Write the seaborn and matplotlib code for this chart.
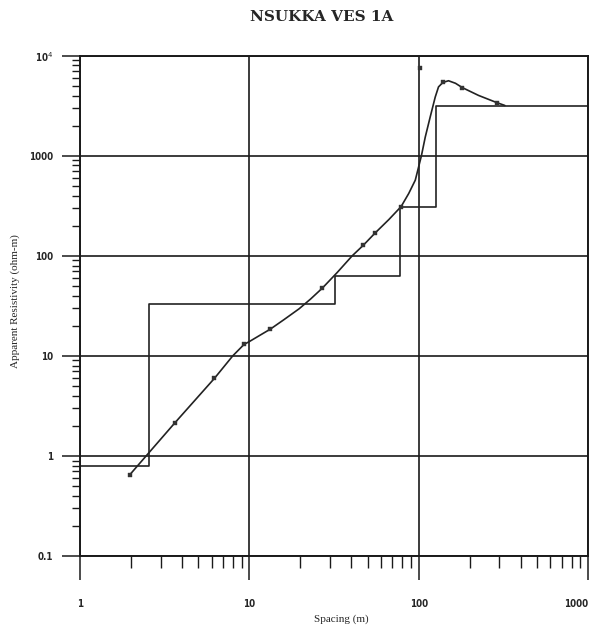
import matplotlib
matplotlib.use('Agg')
import matplotlib.pyplot as plt
import matplotlib.ticker as mticker
import seaborn as sns
import pandas as pd

# field readings: spacing (m) vs apparent resistivity (ohm-m)
spacing = [1.97, 3.64, 6.22, 9.3, 13.3, 27, 47, 55.3, 78.7, 101.8, 139, 181, 289]
resistivity = [0.65, 2.15, 5.96, 13, 18.5, 47.6, 127, 169, 310, 7500, 5400, 4800, 3400]

# model response curve
curve_x = [1.97, 3.64, 6.22, 7.98, 9.3, 10, 11.5, 13.3, 16, 19.7, 23, 27, 33, 40.5, 47, 55.3, 66.6,
           78.7, 87.3, 95.5, 103.8, 109.4, 117, 125.3, 131, 139, 150, 165, 181, 225.6, 289, 323]
curve_y = [0.65, 2.15, 5.96, 10, 13, 13.9, 16.0, 18.5, 23, 29.6, 37, 47.6, 68, 100, 127, 169, 230,
           310, 419, 570, 1000, 1540, 2445, 3870, 4880, 5400, 5620, 5300, 4800, 4010, 3400, 3180]

# layered earth model (layer bottoms and resistivities)
layer_x = [1, 2.56, 32, 78, 127, 1000]
layer_rho = [0.785, 32.7, 62.8, 310, 3150, 3150]

xticks = [1, 10, 100, 1000]
xlabels = ['1', '10', '100', '1000']
yticks = [0.1, 1, 10, 100, 1000, 10000]
ylabels = ['0.1', '1', '10', '100', '1000', '10$^4$']

sns.set_style('white')
tick_font = ['Liberation Sans Narrow', 'DejaVu Sans']

fig = plt.figure(figsize=(5.92, 6.27), dpi=100)
ax = fig.add_axes([80 / 592, 1 - 556 / 627, 508 / 592, (556 - 55.7) / 627])

pts = pd.DataFrame({'x': spacing, 'y': resistivity})
curve = pd.DataFrame({'x': curve_x, 'y': curve_y})
model = pd.DataFrame({'x': layer_x, 'y': layer_rho})

sns.lineplot(data=model, x='x', y='y', ax=ax, color='#222222', lw=1.2,
             drawstyle='steps-post', estimator=None, sort=False)
sns.lineplot(data=curve, x='x', y='y', ax=ax, color='#222222', lw=1.2,
             estimator=None, sort=False)
sns.scatterplot(data=pts, x='x', y='y', ax=ax, marker='s', s=12,
                color='#333333', edgecolor='#333333', zorder=5)

ax.set_xscale('log')
ax.set_yscale('log')
ax.set_xlim(1, 1000)
ax.set_ylim(0.1, 10000)

ax.set_xticks(xticks)
ax.set_xticklabels(xlabels)
ax.set_yticks(yticks)
ax.set_yticklabels(ylabels)
ax.xaxis.set_minor_locator(mticker.LogLocator(base=10, subs=range(2, 10)))
ax.yaxis.set_minor_locator(mticker.LogLocator(base=10, subs=range(2, 10)))
ax.xaxis.set_minor_formatter(mticker.NullFormatter())
ax.yaxis.set_minor_formatter(mticker.NullFormatter())

ax.grid(which='major', color='#1a1a1a', lw=1.2)
ax.grid(which='minor', visible=False)
for s in ax.spines.values():
    s.set_color('#1a1a1a')
    s.set_linewidth(1.4)

ax.tick_params(axis='x', which='major', direction='out', length=17, width=1.1,
               color='#1a1a1a', pad=14, bottom=True)
ax.tick_params(axis='x', which='minor', direction='out', length=8.5, width=1.0,
               color='#1a1a1a', bottom=True)
ax.tick_params(axis='y', which='major', direction='out', length=13, width=1.1,
               color='#1a1a1a', pad=6, left=True)
ax.tick_params(axis='y', which='minor', direction='out', length=6, width=1.0,
               color='#1a1a1a', left=True)
for lab in ax.get_xticklabels() + ax.get_yticklabels():
    lab.set_family(tick_font)
    lab.set_fontweight('bold')
    lab.set_fontstretch('condensed')
    lab.set_fontsize(7)
# last x label sits flush with the right edge, as on the sheet
ax.get_xticklabels()[-1].set_horizontalalignment('right')

ax.set_xlabel('Spacing (m)', family='Liberation Serif', fontsize=8)
ax.set_ylabel('Apparent Resistivity (ohm-m)', family='Liberation Serif', fontsize=8)
ax.xaxis.set_label_coords((341 - 80) / 508, -(614 - 556) / 500)
ax.yaxis.set_label_coords(-(80 - 20) / 508, 0.51)

fig.text(322 / 592, 1 - 17 / 627, 'NSUKKA VES 1A', ha='center', va='center',
         family='DejaVu Serif', fontweight='bold', fontsize=11)

fig.savefig('out.png', dpi=100)
